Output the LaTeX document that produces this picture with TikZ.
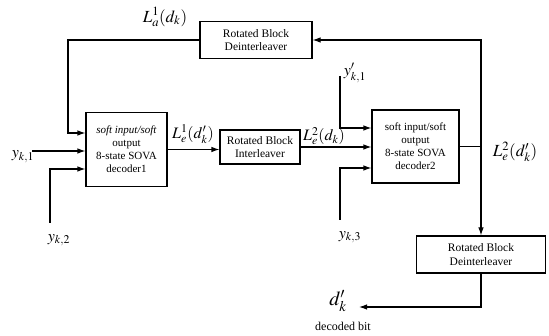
\documentclass[tikz,border=0pt]{standalone}
\usepackage{mathptmx}
\usepackage{fontspec}
\setmainfont{Liberation Serif}
\usetikzlibrary{arrows.meta}
\tikzset{
  rbox/.style={draw, line width=1.1pt, align=center, inner sep=0pt, font=\fontsize{11.5}{13.5}\selectfont},
  decbox/.style={draw, line width=1.1pt, align=center, inner sep=0pt, font=\fontsize{11}{13}\selectfont},
  sig/.style={line width=1.1pt, -{Latex[length=8pt,width=5.5pt]}},
  lbl/.style={inner sep=0pt, font=\fontsize{16}{18}\selectfont}
}
\begin{document}
\begin{tikzpicture}[x=1pt,y=-1pt]
\useasboundingbox (0,0) rectangle (549,336);
\node[rbox, minimum width=112pt, minimum height=37pt] (deintA) at (256,40) {Rotated Block\\Deinterleaver};
\node[decbox, minimum width=81pt, minimum height=74pt] (dec1) at (126.5,149.5) {\textit{soft input/soft}\\output\\8-state SOVA\\decoder1};
\node[rbox, minimum width=80pt, minimum height=34pt] (intl) at (260,147) {Rotated Block\\Interleaver};
\node[decbox, minimum width=87pt, minimum height=73pt] (dec2) at (415.5,146.5) {soft input/soft\\output\\8-state SOVA\\decoder2};
\node[rbox, minimum width=129pt, minimum height=37pt] (deintB) at (481,254.5) {Rotated Block\\Deinterleaver};
\node[lbl, font=\fontsize{17}{19}\selectfont] (la1) at (165,17) {$L_a^1(d_k)$};
\node[lbl] (le1) at (193,134) {$L_e^1(d'_k)$};
\node[lbl] (le2) at (324,136) {$L_e^2(d_k)$};
\node[lbl, font=\fontsize{17}{19}\selectfont] (le2b) at (515,152) {$L_e^2(d'_k)$};
\node[lbl] (yk1) at (23,157) {$y_{k,1}$};
\node[lbl] (yk2) at (59,240) {$y_{k,2}$};
\node[lbl] (ypk1) at (355,73) {$y'_{k,1}$};
\node[lbl] (yk3) at (350,237) {$y_{k,3}$};
\node[lbl, font=\fontsize{20}{22}\selectfont] (dk) at (338,301) {$d'_k$};
\node[font=\fontsize{12}{14}\selectfont] (bit) at (343,326) {decoded bit};
\coordinate (fbL) at (68,40);
\coordinate (in1) at (32,151);
\coordinate (in2) at (50,223);
\coordinate (in3) at (340,76);
\coordinate (in4) at (340,220);
\coordinate (out) at (359,307);
\draw[sig] (deintA.west) -- (fbL) |- ([yshift=16.5pt]dec1.west);
\draw[sig] (in1) -- (in1 -| dec1.west);
\draw[sig] (in2) |- ([yshift=-19.5pt]dec1.west);
\draw[sig] (dec1.east) -- (dec1.east -| intl.west);
\draw[sig] (intl.east) -- (intl.east -| dec2.west);
\draw[sig] (in3) |- ([yshift=18.5pt]dec2.west);
\draw[sig] (in4) |- ([yshift=-21.5pt]dec2.west);
\draw[sig] (dec2.east) -- (dec2.east -| deintB.north) -- (deintB.north);
\draw[sig] (dec2.east -| deintB.north) |- (deintA.east);
\draw[sig] (deintB.south) |- (out);
\end{tikzpicture}
\end{document}
